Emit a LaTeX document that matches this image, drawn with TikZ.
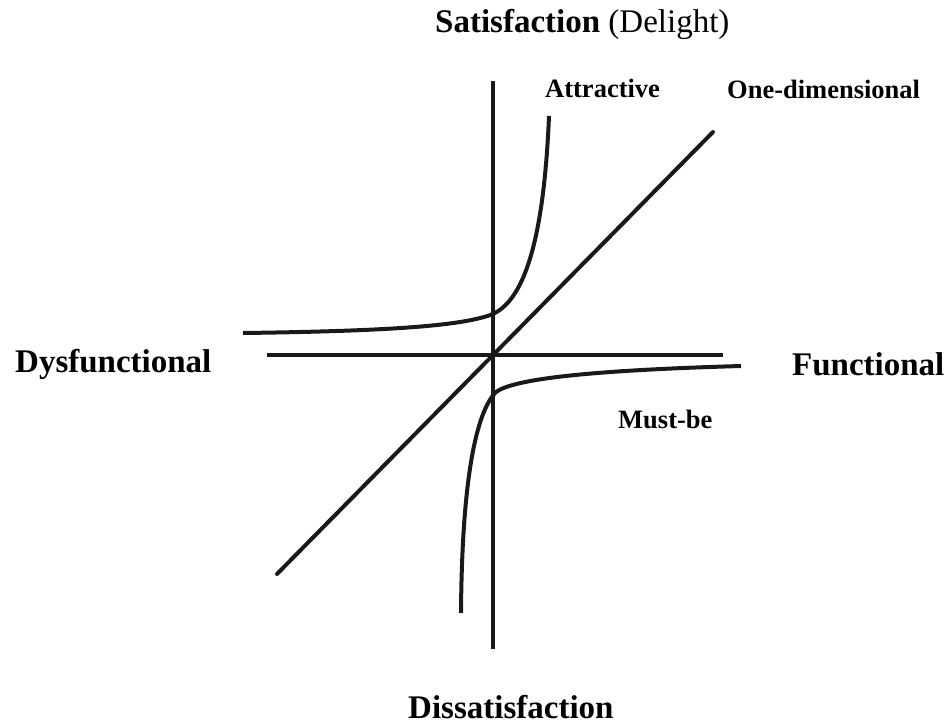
\documentclass[tikz,border=0pt]{standalone}
\usepackage{fontspec}
\setmainfont{Liberation Serif}
\begin{document}
\begin{tikzpicture}[x=1pt,y=-1pt,
  curve/.style={line width=4pt,black!90},
  biglab/.style={anchor=base west,inner sep=0pt,font=\fontsize{33}{33}\selectfont\bfseries},
  smalllab/.style={anchor=base west,inner sep=0pt,font=\fontsize{26.5}{26.5}\selectfont\bfseries}]
\useasboundingbox (0,0) rectangle (951,726);
% axes
\coordinate (vt) at (493,81);
\coordinate (vb) at (493,649);
\coordinate (hl) at (267,355);
\coordinate (hr) at (723,355);
\coordinate (dl) at (277,574);
\coordinate (dr) at (713,132);
\draw[curve] (vt) -- (vb);
\draw[curve] (hl) -- (hr);
\draw[curve,line cap=round] (dl) -- (dr);
% attractive curve
\coordinate (a1) at (243,333);
\coordinate (a2) at (493,314);
\coordinate (a3) at (549,116);
\draw[curve] (a1) .. controls (400,331) and (465,325) .. (a2)
  .. controls (518,302) and (543,260) .. (a3);
% must-be curve
\coordinate (m1) at (741,366);
\coordinate (m2) at (496,392);
\coordinate (m3) at (461,613);
\draw[curve] (m1) .. controls (600,370) and (515,378) .. (m2)
  .. controls (478,410) and (462,470) .. (m3);
% labels
\node[biglab] (sat) at (435,32) {Satisfaction \mdseries(Delight)};
\node[biglab] (dys) at (15,372) {Dysfunctional};
\node[biglab] (fun) at (792,375) {Functional};
\node[biglab] (dis) at (408,718) {Dissatisfaction};
\node[smalllab] (att) at (545,97) {Attractive};
\node[smalllab] (one) at (727,98) {One-dimensional};
\node[smalllab] (must) at (618,428) {Must-be};
\end{tikzpicture}
\end{document}
